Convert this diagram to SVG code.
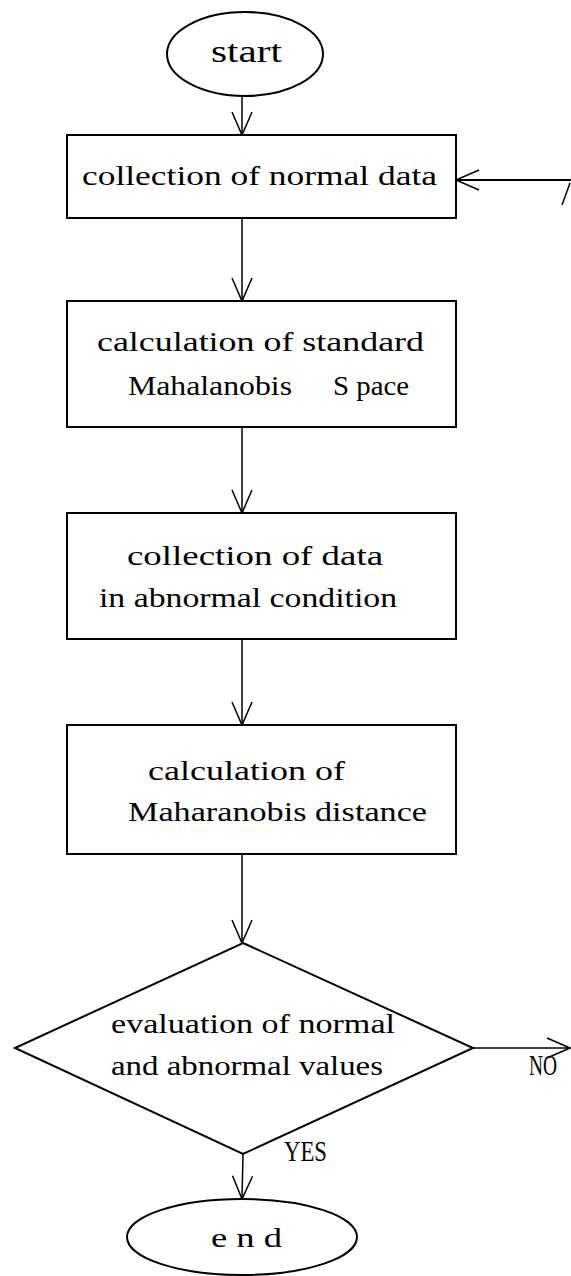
<svg xmlns="http://www.w3.org/2000/svg" width="571" height="1276" viewBox="0 0 571 1276">
  <style>
    .shape { fill: #ffffff; stroke: #000000; stroke-width: 2; }
    .conn { fill: none; stroke: #000000; stroke-width: 1.5; }
    .lbl { font-family: "Liberation Serif", "DejaVu Serif", serif; font-size: 27px; fill: #000000; }
    .tag { font-family: "Liberation Serif", "DejaVu Serif", serif; font-size: 30px; fill: #000000; }
    .term { font-family: "Liberation Serif", "DejaVu Serif", serif; font-size: 32px; fill: #000000; }
  </style>
  <defs>
    <marker id="open" viewBox="-25 -12 27 24" refX="0" refY="0" markerWidth="27" markerHeight="24" markerUnits="userSpaceOnUse" orient="auto">
      <path d="M-23,-10 L0,0 L-23,10" fill="none" stroke="#000000" stroke-width="1.5"/>
    </marker>
  </defs>
  <rect width="571" height="1276" fill="#ffffff"/>

  <!-- connectors -->
  <g id="connectors">
    <line class="conn" x1="242" y1="96" x2="242" y2="135" marker-end="url(#open)"/>
    <line class="conn" x1="242" y1="218" x2="242" y2="301" marker-end="url(#open)"/>
    <line class="conn" x1="242" y1="427" x2="242" y2="513" marker-end="url(#open)"/>
    <line class="conn" x1="242" y1="639" x2="242" y2="725" marker-end="url(#open)"/>
    <line class="conn" x1="242" y1="854" x2="242" y2="943" marker-end="url(#open)"/>
    <line class="conn" x1="243" y1="1154" x2="242" y2="1199" marker-end="url(#open)"/>
    <!-- return path into the first collection step -->
    <line class="conn" x1="571" y1="180" x2="456" y2="180" marker-end="url(#open)" style="stroke-width:2"/>
    <line class="conn" x1="570" y1="183" x2="562" y2="205"/>
    <!-- NO branch -->
    <line class="conn" x1="473" y1="1048" x2="570" y2="1048" marker-end="url(#open)"/>
    <text class="tag" x="529" y="1075" textLength="28" lengthAdjust="spacingAndGlyphs">NO</text>
    <text class="tag" x="284" y="1161" textLength="43" lengthAdjust="spacingAndGlyphs">YES</text>
  </g>

  <g id="start">
    <ellipse class="shape" cx="245" cy="54" rx="78" ry="42"/>
    <text class="term" x="211" y="62" textLength="71" lengthAdjust="spacingAndGlyphs">start</text>
  </g>

  <g id="collect-normal">
    <rect class="shape" x="67" y="135" width="389" height="83"/>
    <text class="lbl" x="82" y="185" textLength="355" lengthAdjust="spacingAndGlyphs">collection of normal data</text>
  </g>

  <g id="calc-space">
    <rect class="shape" x="67" y="301" width="389" height="126"/>
    <text class="lbl" x="97" y="351" textLength="327" lengthAdjust="spacingAndGlyphs">calculation of standard</text>
    <text class="lbl" x="128" y="395" textLength="164" lengthAdjust="spacingAndGlyphs">Mahalanobis</text>
    <text class="lbl" x="333" y="395" textLength="76" lengthAdjust="spacingAndGlyphs">S pace</text>
  </g>

  <g id="collect-abnormal">
    <rect class="shape" x="67" y="513" width="389" height="126"/>
    <text class="lbl" x="127" y="565" textLength="256" lengthAdjust="spacingAndGlyphs">collection of data</text>
    <text class="lbl" x="99" y="607" textLength="298" lengthAdjust="spacingAndGlyphs">in abnormal condition</text>
  </g>

  <g id="calc-distance">
    <rect class="shape" x="67" y="725" width="389" height="129"/>
    <text class="lbl" x="148" y="780" textLength="197" lengthAdjust="spacingAndGlyphs">calculation of</text>
    <text class="lbl" x="128" y="821" textLength="299" lengthAdjust="spacingAndGlyphs">Maharanobis distance</text>
  </g>

  <g id="evaluate">
    <polygon class="shape" points="243,943 473,1048 243,1154 15,1048"/>
    <text class="lbl" x="111" y="1033" textLength="284" lengthAdjust="spacingAndGlyphs">evaluation of normal</text>
    <text class="lbl" x="111" y="1075" textLength="272" lengthAdjust="spacingAndGlyphs">and abnormal values</text>
  </g>

  <g id="end">
    <ellipse class="shape" cx="242" cy="1237" rx="115" ry="38"/>
    <text class="lbl" x="211" y="1247" textLength="71" lengthAdjust="spacingAndGlyphs">e n d</text>
  </g>
</svg>
